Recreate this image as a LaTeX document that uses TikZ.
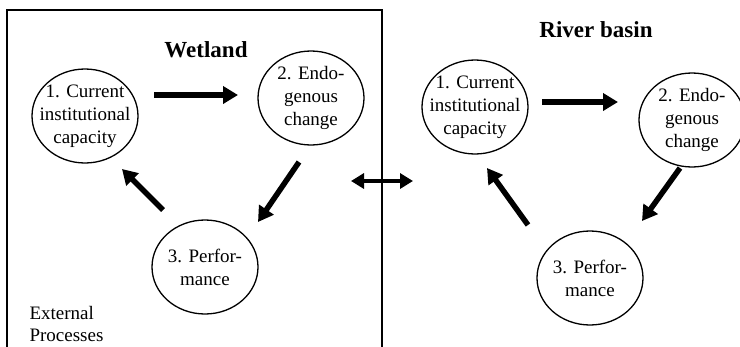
\documentclass[tikz,border=0pt]{standalone}
\usepackage{fontspec}
\setmainfont{Liberation Serif}
\usetikzlibrary{shapes.geometric,arrows.meta}
\begin{document}
\begin{tikzpicture}[x=1pt,y=-1pt,
  stage/.style={ellipse,draw,line width=1.3pt,minimum width=106pt,minimum height=94pt,
    inner xsep=-14pt,inner ysep=-6pt,align=center,font=\fontsize{19}{23}\selectfont},
  heading/.style={font=\fontsize{23}{27}\selectfont\bfseries},
  flow/.style={line width=5.5pt,-{Triangle[length=15pt,width=17pt]}},
  link/.style={line width=4pt,{Triangle[length=13pt,width=15pt]}-{Triangle[length=13pt,width=15pt]}}]
\useasboundingbox (0,0) rectangle (740,346);

% frame of the wetland level, open at the bottom
\draw[line width=1.3pt] (7,350) -- (7,10) -- (382,10) -- (382,350);

% wetland cycle
\node[heading] (tw) at (206,50) {Wetland};
\node[stage] (w1) at (85,116) {1. Current\\institutional\\capacity};
\node[stage] (w2) at (311,98) {2. Endo-\\genous\\change};
\node[stage] (w3) at (205,267) {3. Perfor-\\mance};
\node[anchor=west,align=left,font=\fontsize{19}{22}\selectfont] (ext) at (26,324) {External\\Processes};

\coordinate (wa) at (154,95);  \coordinate (wb) at (238,95);
\coordinate (wc) at (299,162); \coordinate (wd) at (258,222);
\coordinate (we) at (163,210); \coordinate (wf) at (122,169);
\draw[flow] (wa) -- (wb);
\draw[flow] (wc) -- (wd);
\draw[flow] (we) -- (wf);

% exchange between the two levels
\coordinate (la) at (351,181); \coordinate (lb) at (413,181);
\draw[link] (la) -- (lb);

% river basin cycle
\node[heading] (tr) at (596,30) {River basin};
\node[stage] (r1) at (475,107) {1. Current\\institutional\\capacity};
\node[stage] (r2) at (692,120) {2. Endo-\\genous\\change};
\node[stage] (r3) at (590,278) {3. Perfor-\\mance};

\coordinate (ra) at (542,102); \coordinate (rb) at (618,102);
\coordinate (rc) at (680,168); \coordinate (rd) at (642,221);
\coordinate (re) at (528,225); \coordinate (rf) at (487,168);
\draw[flow] (ra) -- (rb);
\draw[flow] (rc) -- (rd);
\draw[flow] (re) -- (rf);
\end{tikzpicture}
\end{document}
